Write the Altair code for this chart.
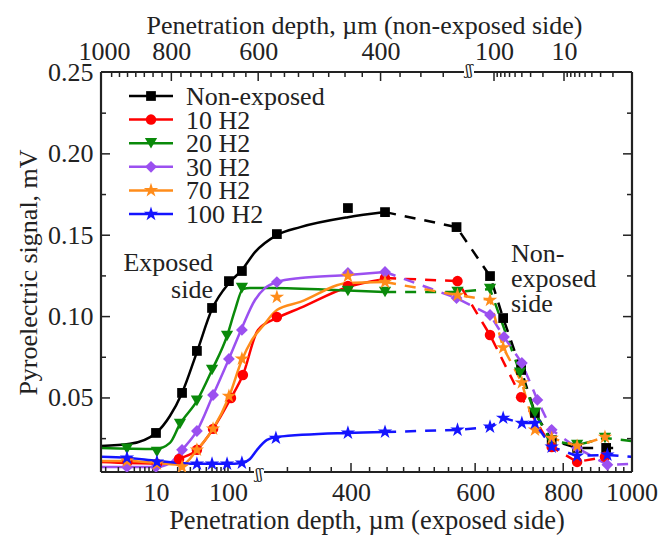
import math
import pandas as pd
import altair as alt

W, H = 531, 400
FONT = "Liberation Serif, Times New Roman, serif"
TXT = "#222222"
FS = 26

SERIES = ["Non-exposed", "10 H2", "20 H2", "30 H2", "70 H2", "100 H2"]
COLORS = ["#000000", "#ff0000", "#0a8a0a", "#9b50f0", "#ff8c1a", "#1414ff"]
STAR = ("M0,-1L0.2245,-0.309L0.951,-0.309L0.363,0.118L0.588,0.809L0,0.382"
        "L-0.588,0.809L-0.363,0.118L-0.951,-0.309L-0.2245,-0.309Z")
SHAPES = ["square", "circle", "triangle-down", "diamond", STAR, STAR]
SIZES = [95, 110, 150, 140, 230, 230]

# ---- exposed side (bottom axis, depth in um) : measured points ----
NE_mark_d = [10, 23, 37, 60, 103, 156, 314, 396, 447]
NE_mark_v = [0.0285, 0.0531, 0.0789, 0.1053, 0.1218, 0.1280, 0.1507, 0.1667, 0.1642]
R_mark_d = [4, 10.3, 20.9, 37, 62, 110, 161, 314, 396, 447]
R_mark_v = [0.0107, 0.0095, 0.0125, 0.0181, 0.0310, 0.0500, 0.0641, 0.0997, 0.1188, 0.1237]
G_mark_d = [3.95, 10.3, 21.5, 37, 60, 97, 156, 396, 447]
G_mark_v = [0.0187, 0.0168, 0.0340, 0.0482, 0.0672, 0.0881, 0.1175, 0.1157, 0.1151]
P_mark_d = [3.95, 10, 23, 37, 62, 103, 156, 314, 396, 447]
P_mark_v = [0.0076, 0.0076, 0.0181, 0.0297, 0.0518, 0.0740, 0.0918, 0.1212, 0.1268, 0.1274]
O_mark_d = [3.95, 10.3, 23, 37, 62, 103, 156, 314, 396, 447]
O_mark_v = [0.0113, 0.0095, 0.0076, 0.0181, 0.0310, 0.0512, 0.0740, 0.1120, 0.1249, 0.1212]
B_mark_d = [3.95, 10.3, 37, 60, 97, 156, 313, 396, 447]
B_mark_v = [0.0132, 0.0107, 0.0095, 0.0095, 0.0095, 0.0101, 0.0254, 0.0285, 0.0291]

# ---- exposed side : fitted curves ----
NE_fit_d = [1.72, 4.35, 10, 15.6, 23, 37, 60, 103, 156, 237, 314, 339, 396, 447]
NE_fit_v = [0.0205, 0.0218, 0.0285, 0.0389, 0.0531, 0.0782, 0.1046, 0.1206, 0.1286, 0.1396, 0.1501, 0.1550, 0.1611, 0.1642]
R_fit_d = [1.72, 10, 15.6, 20.9, 37, 62, 110, 161, 261, 314, 339, 396, 447]
R_fit_v = [0.0107, 0.0098, 0.0098, 0.0125, 0.0181, 0.0310, 0.0500, 0.0641, 0.0918, 0.0991, 0.1053, 0.1182, 0.1231]
G_fit_d = [1.72, 10, 15.6, 21.5, 37, 60, 97, 125, 161, 202, 307, 396, 447]
G_fit_v = [0.0193, 0.0187, 0.0224, 0.0340, 0.0482, 0.0672, 0.0881, 0.1040, 0.1169, 0.1175, 0.1175, 0.1160, 0.1151]
P_fit_d = [1.72, 10, 15.6, 23, 37, 62, 103, 156, 237, 302, 314, 339, 396, 447]
P_fit_v = [0.0076, 0.0076, 0.0100, 0.0181, 0.0297, 0.0518, 0.0740, 0.0930, 0.1102, 0.1175, 0.1212, 0.1237, 0.1255, 0.1274]
O_fit_d = [1.72, 3.95, 10.3, 23, 37, 62, 103, 156, 215, 300, 314, 339, 396, 447]
O_fit_v = [0.0113, 0.0113, 0.0101, 0.0089, 0.0181, 0.0310, 0.0506, 0.0733, 0.0857, 0.0942, 0.1040, 0.1090, 0.1206, 0.1212]
B_fit_d = [1.72, 3.95, 10.3, 37, 97, 156, 202, 253, 304, 314, 396, 447]
B_fit_v = [0.0138, 0.0132, 0.0113, 0.0095, 0.0095, 0.0101, 0.0125, 0.0181, 0.0242, 0.0260, 0.0285, 0.0291]

# ---- non-exposed side (top axis, depth in um) : measured points ----
NE_back_t = [394, 311, 114, 74, 41, 26, 15, 6.5, 2.5]
NE_back_v = [0.1642, 0.1550, 0.1249, 0.0991, 0.0672, 0.0408, 0.0240, 0.0193, 0.0193]
R_back_t = [394, 310, 114, 41, 15, 6.5, 2.6]
R_back_v = [0.1237, 0.1218, 0.0887, 0.0505, 0.0199, 0.0107, 0.0138]
G_back_t = [394, 310, 114, 42.5, 26, 15.3, 6.5, 2.6]
G_back_v = [0.1151, 0.1151, 0.1169, 0.0654, 0.0408, 0.0236, 0.0211, 0.0254]
P_back_t = [394, 311, 114, 72, 40, 24, 15, 6.5, 2.4]
P_back_v = [0.1274, 0.1114, 0.1010, 0.0875, 0.0715, 0.0488, 0.0304, 0.0193, 0.0089]
O_back_t = [394, 310, 114, 74, 40, 26, 15, 6.5, 2.6]
O_back_v = [0.1212, 0.1132, 0.1102, 0.0810, 0.0594, 0.0304, 0.0254, 0.0205, 0.0260]
B_back_t = [394, 310, 114, 74, 40, 26, 15, 6.5, 2.4]
B_back_v = [0.0291, 0.0304, 0.0322, 0.0377, 0.0346, 0.0346, 0.0199, 0.0144, 0.0150]
# dashed lines running on to the frame
NE_tail_t, NE_tail_v = [1.55], [0.0193]
G_tail_t, G_tail_v = [1.1], [0.0236]
P_tail_t, P_tail_v = [1.1], [0.0095]
B_tail_t, B_tail_v = [1.1], [0.0138]

# ---- axis ticks / labels ----
BOT_LABELS = [10, 100, 400, 600, 800, 1000]
TOP_LABELS = [1000, 800, 600, 400, 100, 10]
BOT_MAJOR = [10, 100, 400, 600, 800]
BOT_MINOR = [2, 3, 4, 5, 6, 7, 8, 9, 20, 30, 40, 50, 60, 70, 80, 90, 200,
             325, 350, 375, 425, 450, 475, 500, 525, 550, 575, 625, 650, 675,
             700, 725, 750, 775, 825, 850, 875, 900, 925, 950, 975]
TOP_MAJOR = [800, 600, 400, 100, 10]
TOP_MINOR = [975, 950, 925, 900, 875, 850, 825, 775, 750, 725, 700, 675, 650,
             625, 575, 550, 525, 500, 475, 450, 425, 375, 350, 325,
             90, 80, 70, 60, 50, 40, 30, 20, 9, 8, 7, 6, 5, 4, 3, 2]
Y_LABELS = [0.05, 0.10, 0.15, 0.20, 0.25]
Y_MINOR = [0.025, 0.075, 0.125, 0.175, 0.225]
Y_MAJOR = [0.05, 0.10, 0.15, 0.20]
BREAK_BOTTOM = 158
BREAK_TOP = 368


# broken, two-segment logarithmic axes (axis units 0..531)
def xb(d):
    if d <= 280:
        return 55 + 72 * (math.log10(d) - 1)
    return 250 + 705 * (math.log10(d) - math.log10(400))


def xt(t):
    if t >= 230:
        return 3 + 695 * (3 - math.log10(t))
    return 393 + 70 * (2 - math.log10(t))


marks = [(NE_mark_d, NE_mark_v), (R_mark_d, R_mark_v), (G_mark_d, G_mark_v),
         (P_mark_d, P_mark_v), (O_mark_d, O_mark_v), (B_mark_d, B_mark_v)]
fits = [(NE_fit_d, NE_fit_v), (R_fit_d, R_fit_v), (G_fit_d, G_fit_v),
        (P_fit_d, P_fit_v), (O_fit_d, O_fit_v), (B_fit_d, B_fit_v)]
backs = [(NE_back_t, NE_back_v), (R_back_t, R_back_v), (G_back_t, G_back_v),
         (P_back_t, P_back_v), (O_back_t, O_back_v), (B_back_t, B_back_v)]
tails = [(NE_tail_t, NE_tail_v), ([], []), (G_tail_t, G_tail_v),
         (P_tail_t, P_tail_v), ([], []), (B_tail_t, B_tail_v)]

mrows, frows, drows = [], [], []
for i, s in enumerate(SERIES):
    for d, v in zip(*marks[i]):
        mrows.append({"series": s, "u": xb(d), "v": v, "sz": SIZES[i]})
    for t, v in list(zip(*backs[i]))[1:]:
        mrows.append({"series": s, "u": xt(t), "v": v, "sz": SIZES[i]})
    for k, (d, v) in enumerate(zip(*fits[i])):
        frows.append({"series": s, "u": xb(d), "v": v, "k": k})
    pts = list(zip(*backs[i])) + list(zip(*tails[i]))
    for k, (t, v) in enumerate(pts):
        drows.append({"series": s, "u": xt(t), "v": v, "k": k})
mdf, fdf, ddf = pd.DataFrame(mrows), pd.DataFrame(frows), pd.DataFrame(drows)


def label_expr(pairs):
    expr = "''"
    for u, txt in reversed(pairs):
        expr = f"abs(datum.value - {u:.2f}) < 0.5 ? '{txt}' : ({expr})"
    return expr


bot_pairs = [(xb(d), str(d)) for d in BOT_LABELS]
top_pairs = [(xt(t), str(t)) for t in TOP_LABELS]

xs = alt.Scale(domain=[0, W], nice=False, zero=False)
ys = alt.Scale(domain=[0.0045, 0.2503], nice=False, zero=False)
cs = alt.Scale(domain=SERIES, range=COLORS)

AX = dict(labelFont=FONT, labelFontSize=FS, labelColor=TXT, titleFont=FONT,
          titleFontWeight="normal", titleColor=TXT,
          ticks=False, domain=False, grid=False)

bottom_axis = alt.Axis(orient="bottom", values=[round(u, 2) for u, _ in bot_pairs],
                       labelExpr=label_expr(bot_pairs),
                       labelFlush=False, labelOverlap=False, labelPadding=7,
                       title="Penetration depth, µm (exposed side)", titlePadding=2,
                       titleFontSize=26.5, **AX)
top_axis = alt.Axis(orient="top", values=[round(u, 2) for u, _ in top_pairs],
                    labelExpr=label_expr(top_pairs),
                    labelFlush=False, labelOverlap=False, labelPadding=8,
                    title="Penetration depth, µm (non-exposed side)", titlePadding=0,
                    titleX=263, titleFontSize=26, **AX)
y_axis = alt.Axis(orient="left", values=Y_LABELS, format=".2f", labelPadding=8,
                  labelOverlap=False, labelFlush=False,
                  title="Pyroelectric signal, mV", titlePadding=6, titleFontSize=FS, **AX)

curves = alt.Chart(fdf).mark_line(interpolate="monotone", strokeWidth=2.5, clip=True).encode(
    x=alt.X("u:Q", scale=xs, axis=bottom_axis),
    y=alt.Y("v:Q", scale=ys, axis=y_axis),
    color=alt.Color("series:N", scale=cs, legend=None),
    order="k:Q",
)
dashes = alt.Chart(ddf).mark_line(strokeWidth=2.5, strokeDash=[11, 9], clip=True).encode(
    x=alt.X("u:Q", scale=xs, axis=None),
    y=alt.Y("v:Q", scale=ys, axis=None),
    color=alt.Color("series:N", scale=cs, legend=None),
    order="k:Q",
)
points = alt.Chart(mdf).mark_point(filled=True, opacity=1, clip=True).encode(
    x=alt.X("u:Q", scale=xs, axis=None),
    y=alt.Y("v:Q", scale=ys, axis=None),
    color=alt.Color("series:N", scale=cs, legend=None),
    shape=alt.Shape("series:N", scale=alt.Scale(domain=SERIES, range=SHAPES), legend=None),
    size=alt.Size("sz:Q", scale=None),
)
top_layer = alt.Chart(pd.DataFrame({"u": [u for u, _ in top_pairs]})).mark_point(opacity=0).encode(
    x=alt.X("u:Q", scale=xs, axis=top_axis),
)


# ticks (pointing inwards)
def xticks(vals, fn, y0, y1):
    df = pd.DataFrame({"u": [fn(v) for v in vals]})
    return alt.Chart(df).mark_rule(color=TXT, strokeWidth=1.5).encode(
        x=alt.X("u:Q", scale=xs, axis=None), y=alt.value(y0), y2=alt.value(y1))


def yticks(vals, x0, x1):
    df = pd.DataFrame({"v": vals})
    return alt.Chart(df).mark_rule(color=TXT, strokeWidth=1.5).encode(
        y=alt.Y("v:Q", scale=ys, axis=None), x=alt.value(x0), x2=alt.value(x1))


ticks = [
    xticks(BOT_MAJOR, xb, H, H - 9), xticks(BOT_MINOR, xb, H, H - 5),
    xticks(TOP_MAJOR, xt, 0, 9), xticks(TOP_MINOR, xt, 0, 5),
    yticks(Y_MAJOR, 0, 9), yticks(Y_MINOR, 0, 5),
    yticks(Y_MAJOR, W, W - 9), yticks(Y_MINOR, W, W - 5),
]

one = pd.DataFrame({"a": [0]})


def hrule(x0, x1, y):
    return alt.Chart(one).mark_rule(color=TXT, strokeWidth=2.2).encode(
        x=alt.value(x0), x2=alt.value(x1), y=alt.value(y))


def vrule(x, y0, y1):
    return alt.Chart(one).mark_rule(color=TXT, strokeWidth=2.2).encode(
        x=alt.value(x), y=alt.value(y0), y2=alt.value(y1))


frame = [
    hrule(0, BREAK_BOTTOM - 5, H), hrule(BREAK_BOTTOM + 5, W, H),
    hrule(0, BREAK_TOP - 5, 0), hrule(BREAK_TOP + 5, W, 0),
    vrule(0, 0, H), vrule(W, 0, H),
]
breaks = [
    alt.Chart(one).mark_text(text="ʃʃ", font="DejaVu Serif", fontSize=14, color=TXT,
                             baseline="middle").encode(x=alt.value(BREAK_BOTTOM), y=alt.value(H + 3)),
    alt.Chart(one).mark_text(text="ʃʃ", font="DejaVu Serif", fontSize=14, color=TXT,
                             baseline="middle").encode(x=alt.value(BREAK_TOP), y=alt.value(-1)),
]

# legend
legend = []
for i, s in enumerate(SERIES):
    yy = 24 + 23.6 * i
    legend.append(alt.Chart(one).mark_rule(color=COLORS[i], strokeWidth=2.5).encode(
        x=alt.value(28), x2=alt.value(72), y=alt.value(yy)))
    legend.append(alt.Chart(one).mark_point(filled=True, opacity=1, color=COLORS[i],
                                            shape=SHAPES[i], size=SIZES[i]).encode(
        x=alt.value(50), y=alt.value(yy)))
    legend.append(alt.Chart(pd.DataFrame({"s": [s]})).mark_text(
        align="left", baseline="middle", font=FONT, fontSize=FS, color=TXT).encode(
        x=alt.value(85), y=alt.value(yy + 1), text="s:N"))

ann = [
    alt.Chart(pd.DataFrame({"s": ["Exposed\nside"]})).mark_text(
        align="right", baseline="middle", font=FONT, fontSize=FS, color=TXT,
        lineBreak="\n", lineHeight=27).encode(x=alt.value(112), y=alt.value(191), text="s:N"),
    alt.Chart(pd.DataFrame({"s": ["Non-\nexposed\nside"]})).mark_text(
        align="left", baseline="middle", font=FONT, fontSize=FS, color=TXT,
        lineBreak="\n", lineHeight=25).encode(x=alt.value(410), y=alt.value(182), text="s:N"),
]

chart = alt.layer(curves, dashes, *ticks, *frame, *breaks, points, top_layer, *legend, *ann).resolve_axis(
    x="independent", y="independent").properties(
    width=W, height=H,
    autosize=alt.AutoSizeParams(type="none"),
    padding={"left": 93, "top": 64, "right": 30, "bottom": 67},
).configure_view(stroke=None)

chart.save("out.html", embed_options={"renderer": "svg", "actions": False})
